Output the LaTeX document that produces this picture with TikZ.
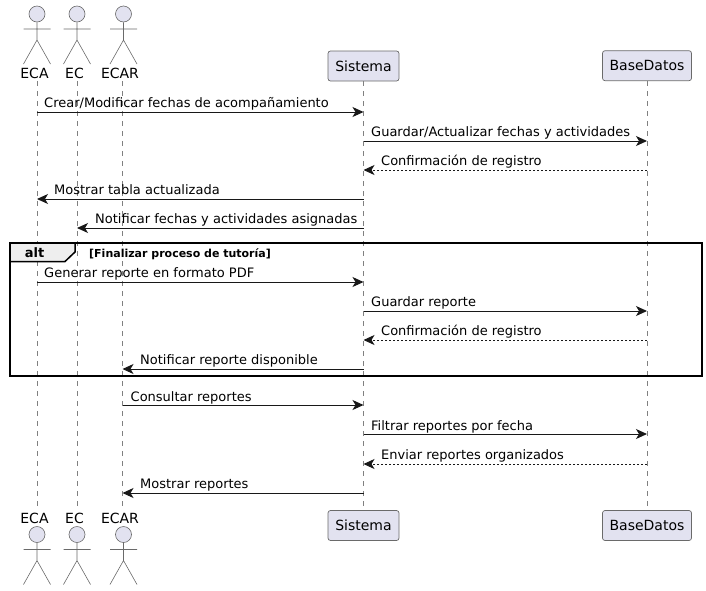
\documentclass[tikz,border=0pt]{standalone}
\usepackage{fontspec}
\setmainfont{DejaVu Sans}
\usetikzlibrary{arrows.meta}
\definecolor{pfill}{HTML}{E2E2F0}
\definecolor{pline}{HTML}{181818}
\definecolor{gline}{HTML}{6A6A6A}
\definecolor{tabfill}{HTML}{EEEEEE}
\newcommand{\msgfont}{\fontsize{13}{15}\selectfont}
\newcommand{\actor}[4]{% name, x, label y, head y
  \node[actorhead] (#1h) at (#2,#4) {};
  \coordinate (#1w) at (#2,#4+26);
  \coordinate (#1al) at (#2-13.5,#4+15);
  \coordinate (#1ar) at (#2+13.5,#4+15);
  \coordinate (#1ll) at (#2-13.5,#4+50);
  \coordinate (#1lr) at (#2+13.5,#4+50);
  \draw[actorline] (#1h.south) -- (#1w) (#1al) -- (#1ar) (#1ll) -- (#1w) -- (#1lr);
}
\newcommand{\msg}[5]{% id, from, to, y, style
  \coordinate (m#1s) at (#2 |- 0,#4);
  \coordinate (m#1t) at (#3 |- 0,#4);
  \draw[#5] (m#1s) -- (m#1t);
}
\tikzset{
  x=1pt,y=-1pt,
  actorhead/.style={circle,draw=gline,line width=.6pt,fill=pfill,minimum size=16pt,inner sep=0pt},
  actorline/.style={draw=gline,line width=.6pt},
  actorlabel/.style={font=\fontsize{14}{16}\selectfont,inner sep=0pt,anchor=base},
  box/.style={draw=gline,line width=.7pt,fill=pfill,rounded corners=2.5pt,minimum height=30pt,inner sep=0pt,font=\fontsize{14}{16}\selectfont},
  lifeline/.style={draw=gline!85,line width=.6pt,dash pattern=on 5pt off 5pt},
  solidmsg/.style={draw=pline,line width=1pt,-{Stealth[length=11pt,width=10pt,inset=3pt]}},
  dashmsg/.style={draw=pline,line width=1pt,dash pattern=on 2pt off 2pt,-{Stealth[length=11pt,width=10pt,inset=3pt]}},
  mlabel/.style={font=\msgfont,inner sep=0pt,anchor=base west,text=black},
  frameline/.style={draw=black,line width=1.5pt},
}
\begin{document}
\begin{tikzpicture}
\useasboundingbox (0,0) rectangle (706,590);
% lifelines
\coordinate (aT) at (37,81); \coordinate (aB) at (37,508);
\coordinate (bT) at (77,81); \coordinate (bB) at (77,508);
\coordinate (cT) at (122.5,81); \coordinate (cB) at (122.5,508);
\node[box,minimum width=71pt] (sT) at (363.5,66) {Sistema};
\node[box,minimum width=89pt] (dT) at (647,65.7) {BaseDatos};
\node[box,minimum width=71pt] (sB) at (363.5,525.5) {Sistema};
\node[box,minimum width=89pt] (dB) at (647,525.5) {BaseDatos};
\draw[lifeline] (aT) -- (aB);
\draw[lifeline] (bT) -- (bB);
\draw[lifeline] (cT) -- (cB);
\draw[lifeline] (sT) -- (sB);
\draw[lifeline] (dT) -- (dB);
% actors
\actor{at}{37}{73}{14}
\actor{bt}{77}{73}{14}
\actor{ct}{123.5}{73}{14}
\actor{ab}{37}{518}{534.5}
\actor{bb}{77}{518}{534.5}
\actor{cb}{123.5}{518}{534.5}
\node[actorlabel] (l1) at (34.5,78) {ECA};
\node[actorlabel] (l2) at (74.5,78) {EC};
\node[actorlabel] (l3) at (120,78) {ECAR};
\node[actorlabel] (l4) at (34.5,523) {ECA};
\node[actorlabel] (l5) at (74.5,523) {EC};
\node[actorlabel] (l6) at (120,523) {ECAR};
% alt frame
\fill[tabfill] (10,243) -- (75,243) -- (75,252) -- (65,261.5) -- (10,261.5) -- cycle;
\draw[frameline] (75,243) -- (75,252) -- (65,261.5) -- (10,261.5);
\node[frameline,rectangle,minimum width=692pt,minimum height=133pt,inner sep=0pt] (frame) at (356,309.5) {};
\node[inner sep=0pt,anchor=base,font=\bfseries\fontsize{13}{15}\selectfont] (alttxt) at (34.5,257.5) {alt};
\node[inner sep=0pt,anchor=base west,font=\bfseries\fontsize{11}{13}\selectfont] (guard) at (89,257.5) {[Finalizar proceso de tutoría]};
% messages
\msg{1}{aT}{sT}{112}{solidmsg}
\node[mlabel] at (44,107) {Crear/Modificar fechas de acompañamiento};
\msg{2}{sT}{dT}{141}{solidmsg}
\node[mlabel] at (371,136) {Guardar/Actualizar fechas y actividades};
\msg{3}{dT}{sT}{170}{dashmsg}
\node[mlabel] at (381,165) {Confirmación de registro};
\msg{4}{sT}{aT}{199}{solidmsg}
\node[mlabel] at (54,194.5) {Mostrar tabla actualizada};
\msg{5}{sT}{bT}{228}{solidmsg}
\node[mlabel] at (95,223.5) {Notificar fechas y actividades asignadas};
\msg{6}{aT}{sT}{282}{solidmsg}
\node[mlabel] at (44,277) {Generar reporte en formato PDF};
\msg{7}{sT}{dT}{311}{solidmsg}
\node[mlabel] at (371,306) {Guardar reporte};
\msg{8}{dT}{sT}{340}{dashmsg}
\node[mlabel] at (381,335) {Confirmación de registro};
\msg{9}{sT}{cT}{369}{solidmsg}
\node[mlabel] at (140,364) {Notificar reporte disponible};
\msg{10}{cT}{sT}{405}{solidmsg}
\node[mlabel] at (130.5,401) {Consultar reportes};
\msg{11}{sT}{dT}{434}{solidmsg}
\node[mlabel] at (371,430) {Filtrar reportes por fecha};
\msg{12}{dT}{sT}{464}{dashmsg}
\node[mlabel] at (381,459) {Enviar reportes organizados};
\msg{13}{sT}{cT}{493}{solidmsg}
\node[mlabel] at (140,488) {Mostrar reportes};
\end{tikzpicture}
\end{document}
